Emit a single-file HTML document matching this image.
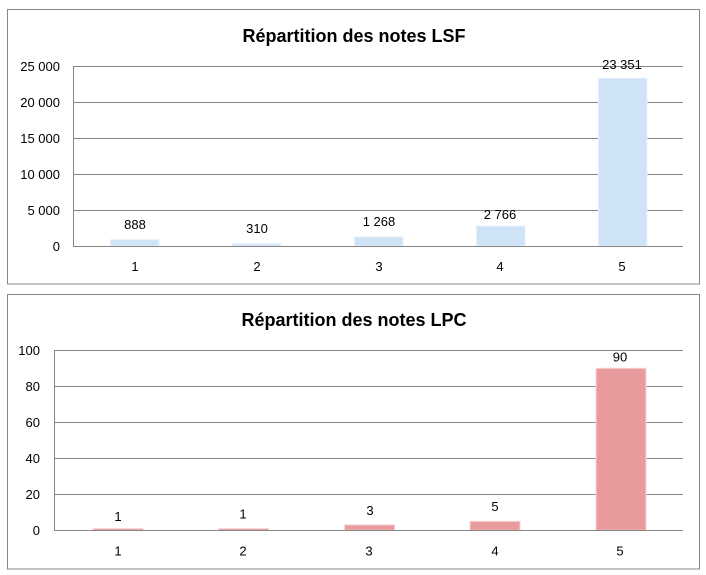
<!DOCTYPE html>
<html><head><meta charset="utf-8"><style>
html,body{margin:0;padding:0;background:#fff;}
svg{display:block;}
text{font-family:"Liberation Sans",sans-serif;fill:#000;}
</style></head><body>
<svg width="706" height="575" viewBox="0 0 706 575" xmlns="http://www.w3.org/2000/svg">
<rect x="0" y="0" width="706" height="575" fill="#fff"/>
<!-- Chart 1 -->
<rect x="7.5" y="9.5" width="692" height="274.5" fill="#fff" stroke="#888" stroke-width="1"/>
<text x="354" y="42" font-size="18" font-weight="bold" text-anchor="middle">Répartition des notes LSF</text>
<g stroke="#868686" stroke-width="1">
<line x1="73" y1="66.5" x2="683" y2="66.5"/>
<line x1="73" y1="102.5" x2="683" y2="102.5"/>
<line x1="73" y1="138.5" x2="683" y2="138.5"/>
<line x1="73" y1="174.5" x2="683" y2="174.5"/>
<line x1="73" y1="210.5" x2="683" y2="210.5"/>
</g>
<g fill="#cfe3f6" stroke="#e6f0fa" stroke-width="1">
<rect x="110.5" y="239.6" width="48.5" height="6.4"/>
<rect x="232.5" y="243.8" width="48.5" height="2.2"/>
<rect x="354.5" y="236.9" width="48.5" height="9.1"/>
<rect x="476.5" y="226.1" width="48.5" height="19.9"/>
<rect x="598.5" y="78.3" width="48.5" height="167.7"/>
</g>
<g stroke="#868686" stroke-width="1">
<line x1="73.5" y1="66" x2="73.5" y2="246.5"/>
<line x1="73" y1="246.5" x2="683" y2="246.5"/>
</g>
<g font-size="13" text-anchor="end">
<text x="60" y="71">25 000</text>
<text x="60" y="107">20 000</text>
<text x="60" y="143">15 000</text>
<text x="60" y="179">10 000</text>
<text x="60" y="215">5 000</text>
<text x="60" y="251">0</text>
</g>
<g font-size="13" text-anchor="middle">
<text x="135" y="229">888</text>
<text x="257" y="233">310</text>
<text x="379" y="226">1 268</text>
<text x="500" y="219">2 766</text>
<text x="622" y="69">23 351</text>
<text x="135" y="271">1</text>
<text x="257" y="271">2</text>
<text x="379" y="271">3</text>
<text x="500" y="271">4</text>
<text x="622" y="271">5</text>
</g>
<!-- Chart 2 -->
<rect x="7.5" y="294.5" width="692" height="274.5" fill="#fff" stroke="#888" stroke-width="1"/>
<text x="354" y="326" font-size="18" font-weight="bold" text-anchor="middle">Répartition des notes LPC</text>
<g stroke="#868686" stroke-width="1">
<line x1="54" y1="350.5" x2="683" y2="350.5"/>
<line x1="54" y1="386.5" x2="683" y2="386.5"/>
<line x1="54" y1="422.5" x2="683" y2="422.5"/>
<line x1="54" y1="458.5" x2="683" y2="458.5"/>
<line x1="54" y1="494.5" x2="683" y2="494.5"/>
</g>
<g fill="#e99a9c" stroke="#f6d6d6" stroke-width="1">
<rect x="93" y="528.5" width="50" height="1.8"/>
<rect x="218.5" y="528.5" width="50" height="1.8"/>
<rect x="344.5" y="524.9" width="50" height="5.4"/>
<rect x="470" y="521.3" width="50" height="9"/>
<rect x="596" y="368.3" width="50" height="162"/>
</g>
<g stroke="#868686" stroke-width="1">
<line x1="54.5" y1="350" x2="54.5" y2="530.5"/>
<line x1="54" y1="530.5" x2="683" y2="530.5"/>
</g>
<g font-size="13" text-anchor="end">
<text x="40" y="355">100</text>
<text x="40" y="391">80</text>
<text x="40" y="427">60</text>
<text x="40" y="463">40</text>
<text x="40" y="499">20</text>
<text x="40" y="535">0</text>
</g>
<g font-size="13" text-anchor="middle">
<text x="118" y="521">1</text>
<text x="243" y="518.5">1</text>
<text x="370" y="515">3</text>
<text x="495" y="511">5</text>
<text x="620" y="361.5">90</text>
<text x="118" y="555.5">1</text>
<text x="243" y="555.5">2</text>
<text x="369" y="555.5">3</text>
<text x="495" y="555.5">4</text>
<text x="620" y="555.5">5</text>
</g>
</svg>
</body></html>
